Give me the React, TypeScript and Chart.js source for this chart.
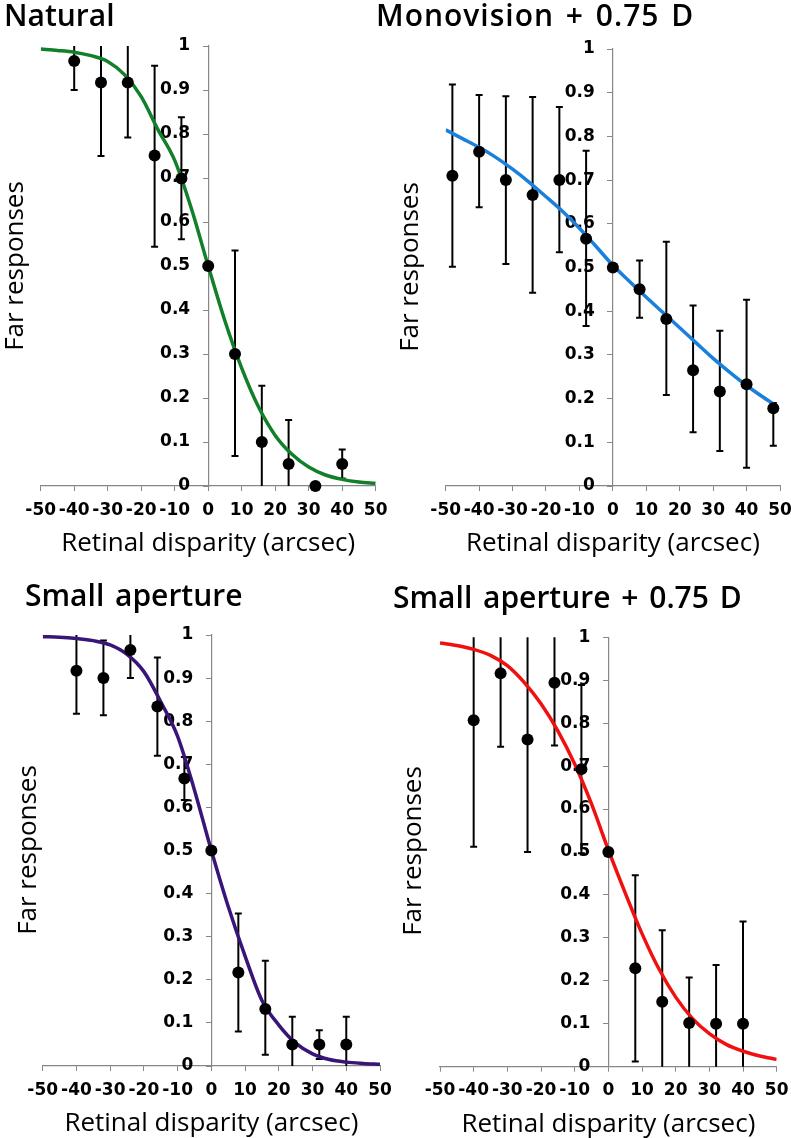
import React, { useEffect, useRef } from 'react';
import { Chart, registerables } from 'chart.js';

Chart.register(...registerables);

// ---------- shared axis labels ----------
const xTickLabels = ['-50', '-40', '-30', '-20', '-10', '0', '10', '20', '30', '40', '50'];
const yTickLabels = ['0', '0.1', '0.2', '0.3', '0.4', '0.5', '0.6', '0.7', '0.8', '0.9', '1'];
const xAxisTitle = 'Retinal disparity (arcsec)';
const yAxisTitle = 'Far responses';

// ---------- Natural ----------
const naturalX = [-40, -32, -24, -16, -8, 0, 8, 16, 24, 32, 40];
const naturalY = [0.966, 0.917, 0.917, 0.751, 0.699, 0.5, 0.30, 0.10, 0.05, 0, 0.05];
const naturalHi = [1.04, 1.04, 1.04, 0.955, 0.838, 0.5, 0.535, 0.228, 0.15, 0, 0.083];
const naturalLo = [0.9, 0.75, 0.792, 0.544, 0.561, 0.5, 0.068, -0.028, -0.05, 0, 0.017];
const fitX = [-50, -45, -40, -35, -30, -25, -20, -15, -10, -5, 0, 5, 10, 15, 20, 25, 30, 35, 40, 45, 50];
const naturalFit = [0.993, 0.99, 0.986, 0.978, 0.965, 0.935, 0.885, 0.81, 0.74, 0.63, 0.5, 0.375, 0.268, 0.18, 0.115, 0.072, 0.043, 0.025, 0.015, 0.009, 0.006];

// ---------- Monovision + 0.75 D ----------
const monoX = [-48, -40, -32, -24, -16, -8, 0, 8, 16, 24, 32, 40, 48];
const monoY = [0.71, 0.765, 0.7, 0.666, 0.7, 0.566, 0.5, 0.45, 0.382, 0.265, 0.216, 0.233, 0.178];
const monoHi = [0.919, 0.895, 0.892, 0.89, 0.867, 0.767, 0.5, 0.516, 0.559, 0.413, 0.355, 0.426, 0.19];
const monoLo = [0.502, 0.638, 0.508, 0.442, 0.535, 0.366, 0.5, 0.385, 0.208, 0.123, 0.08, 0.042, 0.092];
const monoFitX = [-50, -45, -40, -35, -30, -25, -20, -15, -10, -5, 0, 5, 10, 15, 20, 25, 30, 35, 40, 45, 49];
const monoFit = [0.815, 0.795, 0.775, 0.752, 0.725, 0.695, 0.662, 0.628, 0.59, 0.548, 0.505, 0.468, 0.432, 0.397, 0.362, 0.327, 0.292, 0.26, 0.23, 0.203, 0.183];

// ---------- Small aperture ----------
const smallX = [-40, -32, -24, -16, -8, 0, 8, 16, 24, 32, 40];
const smallY = [0.917, 0.9, 0.965, 0.834, 0.667, 0.5, 0.217, 0.132, 0.05, 0.05, 0.05];
const smallHi = [1.04, 0.987, 1.04, 0.948, 0.717, 0.5, 0.354, 0.244, 0.114, 0.083, 0.114];
const smallLo = [0.817, 0.814, 0.9, 0.72, 0.617, 0.5, 0.08, 0.026, -0.014, 0.016, -0.014];
const smallFit = [0.996, 0.995, 0.992, 0.987, 0.977, 0.955, 0.915, 0.845, 0.765, 0.64, 0.5, 0.37, 0.255, 0.152, 0.095, 0.053, 0.028, 0.015, 0.009, 0.006, 0.004];

// ---------- Small aperture + 0.75 D ----------
const smallDX = [-40, -32, -24, -16, -8, 0, 8, 16, 24, 32, 40];
const smallDY = [0.807, 0.916, 0.762, 0.894, 0.693, 0.5, 0.229, 0.151, 0.102, 0.1, 0.1];
const smallDHi = [1.04, 1.04, 1.04, 1.04, 0.889, 0.5, 0.446, 0.318, 0.208, 0.237, 0.338];
const smallDLo = [0.512, 0.745, 0.5, 0.748, 0.497, 0.5, 0.012, -0.016, -0.004, -0.037, -0.138];
const smallDFit = [0.987, 0.981, 0.972, 0.958, 0.934, 0.895, 0.845, 0.782, 0.705, 0.612, 0.505, 0.405, 0.31, 0.228, 0.162, 0.112, 0.077, 0.052, 0.036, 0.025, 0.017];

type Panel = {
  title: string;
  color: string;
  left: number; top: number; width: number; height: number;
  pad: { left: number; right: number; top: number; bottom: number };
  titleLeft: number; titleTop: number; titleSpacing: number;
  ylabX: number; ylabY: number;
  px: number[]; py: number[]; hi: number[]; lo: number[];
  fx: number[]; fy: number[];
};

const panels: Panel[] = [
  {
    title: 'Natural', color: '#12802a',
    left: 0, top: 0, width: 395, height: 569,
    pad: { left: 40.7, right: 19.3, top: 46, bottom: 9.8 },
    titleLeft: 4, titleTop: 0, titleSpacing: 0, ylabX: 13, ylabY: 266,
    px: naturalX, py: naturalY, hi: naturalHi, lo: naturalLo, fx: fitX, fy: naturalFit,
  },
  {
    title: 'Monovision + 0.75 D', color: '#1a80dc',
    left: 395, top: 0, width: 396, height: 569,
    pad: { left: 50.7, right: 11, top: 49, bottom: 9.8 },
    titleLeft: 376, titleTop: 0, titleSpacing: 1, ylabX: 408, ylabY: 267,
    px: monoX, py: monoY, hi: monoHi, lo: monoLo, fx: monoFitX, fy: monoFit,
  },
  {
    title: 'Small aperture', color: '#3a1578',
    left: 0, top: 569, width: 395, height: 572,
    pad: { left: 42.7, right: 15, top: 66, bottom: 1.8 },
    titleLeft: 25, titleTop: 580, titleSpacing: 0, ylabX: 26, ylabY: 850,
    px: smallX, py: smallY, hi: smallHi, lo: smallLo, fx: fitX, fy: smallFit,
  },
  {
    title: 'Small aperture + 0.75 D', color: '#f01010',
    left: 395, top: 569, width: 396, height: 572,
    pad: { left: 45, right: 14.3, top: 68.3, bottom: 1.1 },
    titleLeft: 393, titleTop: 582, titleSpacing: 0, ylabX: 410.5, ylabY: 851,
    px: smallDX, py: smallDY, hi: smallDHi, lo: smallDLo, fx: fitX, fy: smallDFit,
  },
];

const AXIS_GREY = '#878787';
const TICK_FONT = { family: 'DejaVu Sans', size: 17, weight: 'bold' };
const X_AXIS_HEIGHT = 73.2;

function PanelChart({ p }: { p: Panel }) {
  const ref = useRef<HTMLCanvasElement | null>(null);
  useEffect(() => {
    if (!ref.current) return;
    const errorBars = {
      id: 'errorBars',
      beforeDatasetsDraw(chart: any) {
        const { ctx, chartArea, scales } = chart;
        ctx.save();
        ctx.beginPath();
        ctx.rect(chartArea.left, chartArea.top, chartArea.right - chartArea.left, chartArea.bottom - chartArea.top);
        ctx.clip();
        ctx.strokeStyle = '#000';
        ctx.lineWidth = 2;
        for (let i = 0; i < p.px.length; i++) {
          if (p.hi[i] === p.lo[i]) continue;
          const x = scales.x.getPixelForValue(p.px[i]);
          const yh = scales.y.getPixelForValue(p.hi[i]);
          const yl = scales.y.getPixelForValue(p.lo[i]);
          ctx.beginPath();
          ctx.moveTo(x, yh); ctx.lineTo(x, yl);
          ctx.moveTo(x - 3.5, yh); ctx.lineTo(x + 3.5, yh);
          ctx.moveTo(x - 3.5, yl); ctx.lineTo(x + 3.5, yl);
          ctx.stroke();
        }
        ctx.restore();
      },
    };
    const chart = new Chart(ref.current, {
      type: 'scatter',
      data: {
        datasets: [
          {
            label: 'data',
            data: p.px.map((x, i) => ({ x, y: p.py[i] })),
            pointRadius: 6,
            pointHoverRadius: 6,
            pointBackgroundColor: '#000',
            pointBorderWidth: 0,
            showLine: false,
            clip: false,
          } as any,
          {
            label: 'fit',
            data: p.fx.map((x, i) => ({ x, y: p.fy[i] })),
            showLine: true,
            pointRadius: 0,
            borderColor: p.color,
            borderWidth: 3.5,
            cubicInterpolationMode: 'monotone',
            fill: false,
          } as any,
        ],
      },
      options: {
        animation: false,
        responsive: false,
        maintainAspectRatio: false,
        events: [],
        layout: { padding: p.pad },
        plugins: { legend: { display: false }, tooltip: { enabled: false }, title: { display: false } },
        scales: {
          x: {
            type: 'linear',
            min: -50, max: 50,
            position: 'bottom',
            afterFit: (s: any) => { s.height = X_AXIS_HEIGHT; s.paddingLeft = 0; s.paddingRight = 0; },
            grid: { drawOnChartArea: false, drawTicks: true, tickLength: 5, color: AXIS_GREY, lineWidth: 1 },
            border: { color: AXIS_GREY, width: 1.2 },
            ticks: {
              stepSize: 10, autoSkip: false, maxRotation: 0, minRotation: 0, padding: 9,
              color: '#000', font: TICK_FONT,
              callback: (_v: any, i: number) => xTickLabels[i],
            },
            title: {
              display: true, text: xAxisTitle, color: '#000',
              font: { family: 'Open Sans', size: 26 }, padding: { top: 0, bottom: 0 },
            },
          },
          y: {
            type: 'linear',
            min: 0, max: 1,
            position: 'center',
            afterFit: (s: any) => { s.paddingTop = 0; s.paddingBottom = 0; },
            grid: { drawOnChartArea: false, drawTicks: true, tickLength: 5, color: AXIS_GREY, lineWidth: 1 },
            border: { color: AXIS_GREY, width: 1.2 },
            ticks: {
              stepSize: 0.1, autoSkip: false, padding: 13,
              color: '#000', font: TICK_FONT,
              callback: (_v: any, i: number) => yTickLabels[i],
            },
          },
        },
      } as any,
      plugins: [errorBars],
    });
    let alive = true;
    if ((document as any).fonts && (document as any).fonts.ready) {
      (document as any).fonts.ready.then(() => { if (alive) chart.update(); });
    }
    return () => { alive = false; chart.destroy(); };
  }, [p]);

  return (
    <>
      <canvas
        ref={ref}
        width={p.width}
        height={p.height}
        style={{ position: 'absolute', left: p.left, top: p.top, width: p.width, height: p.height }}
      />
      <div
        style={{
          position: 'absolute', left: p.titleLeft, top: p.titleTop,
          fontFamily: '"Open Sans", sans-serif', fontSize: 30, fontWeight: 600, lineHeight: '30px',
          wordSpacing: 3, letterSpacing: p.titleSpacing, whiteSpace: 'nowrap', color: '#000',
        }}
      >
        {p.title}
      </div>
      <div
        style={{
          position: 'absolute', left: p.ylabX - 150, top: p.ylabY - 13, width: 300, height: 26,
          fontFamily: '"Open Sans", sans-serif', fontSize: 26, lineHeight: '26px',
          textAlign: 'center', whiteSpace: 'nowrap', color: '#000', transform: 'rotate(-90deg)',
        }}
      >
        {yAxisTitle}
      </div>
    </>
  );
}

export default function App() {
  return (
    <div style={{ position: 'absolute', left: 0, top: 0, width: 791, height: 1138, overflow: 'hidden', background: '#fff' }}>
      {panels.map((p) => (
        <PanelChart key={p.title} p={p} />
      ))}
    </div>
  );
}
